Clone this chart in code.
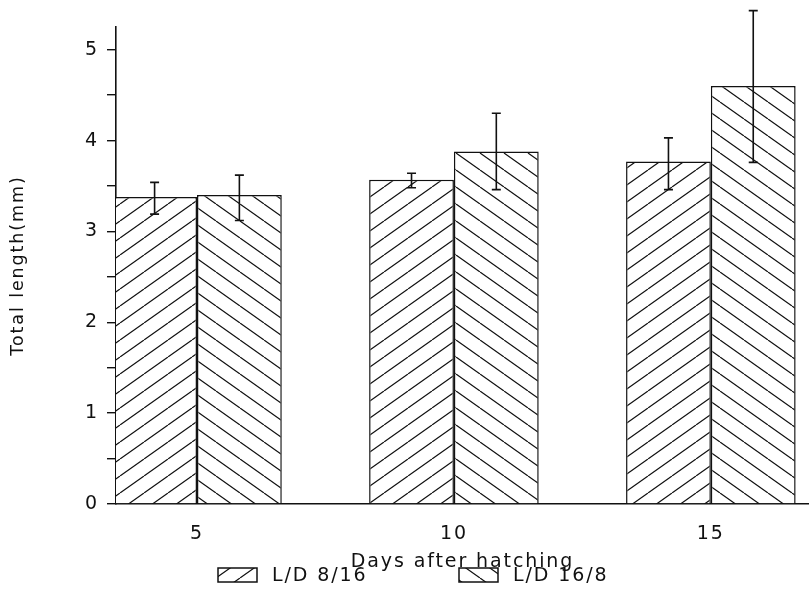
<!DOCTYPE html>
<html>
<head>
<meta charset="utf-8">
<script src="https://cdn.jsdelivr.net/npm/chart.js@4.4.0/dist/chart.umd.min.js"></script>
<style>
html, body { margin: 0; padding: 0; background: #fff; }
#wrap { width: 809px; height: 590px; }
</style>
</head>
<body>
<div id="wrap"><canvas id="myChart" width="809" height="590"></canvas></div>
<script>
// data
const days = [5, 10, 15];
const seriesNames = ["L/D 8/16", "L/D 16/8"];
const shortDay = [3.38, 3.57, 3.77];
const longDay = [3.40, 3.88, 4.60];
const shortErrLow = [3.19, 3.48, 3.46];
const shortErrHigh = [3.54, 3.64, 4.03];
const longErrLow = [3.12, 3.46, 3.76];
const longErrHigh = [3.62, 4.30, 5.43];
const yTickLabels = [0, 1, 2, 3, 4, 5];

const ink = "#111";
const fontFamily = "'DejaVu Sans', sans-serif";

// diagonal hatch, dir 1 = "/" and -1 = "\"
function hatch(dir) {
    const w = 24, h = 17;
    const c = document.createElement("canvas");
    c.width = w;
    c.height = h;
    const g = c.getContext("2d");
    g.fillStyle = "#fff";
    g.fillRect(0, 0, w, h);
    g.strokeStyle = ink;
    g.lineWidth = 1.2;
    g.beginPath();
    [-w, 0, w].forEach((dx) => {
        if (dir > 0) {
            g.moveTo(dx, h);
            g.lineTo(dx + w, 0);
        } else {
            g.moveTo(dx, 0);
            g.lineTo(dx + w, h);
        }
    });
    g.stroke();
    return g.createPattern(c, "repeat");
}

const patterns = [hatch(1), hatch(-1)];
const errLow = [shortErrLow, longErrLow];
const errHigh = [shortErrHigh, longErrHigh];

// the scanned lettering is widely spaced
const spacing = {
    id: "spacing",
    beforeDraw(chart) {
        chart.ctx.letterSpacing = "1.9px";
    },
};

// error bars drawn from the bar elements and the y scale
const errorBars = {
    id: "errorBars",
    afterDatasetsDraw(chart) {
        const ctx = chart.ctx;
        const y = chart.scales.y;
        ctx.save();
        ctx.strokeStyle = ink;
        ctx.lineWidth = 1.6;
        chart.data.datasets.forEach((ds, di) => {
            chart.getDatasetMeta(di).data.forEach((bar, i) => {
                const x = bar.x;
                const yl = y.getPixelForValue(errLow[di][i]);
                const yh = y.getPixelForValue(errHigh[di][i]);
                ctx.beginPath();
                ctx.moveTo(x, yl);
                ctx.lineTo(x, yh);
                ctx.moveTo(x - 4.5, yl);
                ctx.lineTo(x + 4.5, yl);
                ctx.moveTo(x - 4.5, yh);
                ctx.lineTo(x + 4.5, yh);
                ctx.stroke();
            });
        });
        ctx.restore();
    },
};

// legend under the axis title
const hatchLegend = {
    id: "hatchLegend",
    afterDraw(chart) {
        const ctx = chart.ctx;
        const starts = [218, 459];
        const yMid = 575;
        ctx.save();
        ctx.font = "19px " + fontFamily;
        ctx.textBaseline = "middle";
        chart.data.datasets.forEach((ds, di) => {
            const x0 = starts[di];
            ctx.fillStyle = patterns[di];
            ctx.fillRect(x0, yMid - 7, 39, 14);
            ctx.strokeStyle = ink;
            ctx.lineWidth = 1.5;
            ctx.strokeRect(x0, yMid - 7, 39, 14);
            ctx.fillStyle = ink;
            ctx.fillText(ds.label, x0 + 54, yMid + 1);
        });
        ctx.restore();
    },
};

const ctx = document.getElementById("myChart").getContext("2d");
const chart = new window.Chart(ctx, {
    type: "bar",
    data: {
        datasets: seriesNames.map((name, di) => ({
            label: name,
            data: days.map((d, i) => ({ x: d, y: [shortDay, longDay][di][i] })),
            backgroundColor: patterns[di],
            borderColor: ink,
            borderWidth: 1.5,
            borderSkipped: "bottom",
            categoryPercentage: 0.66,
            barPercentage: 1,
        })),
    },
    options: {
        responsive: false,
        animation: false,
        layout: { padding: { top: 27, left: 0, right: 0, bottom: 0 } },
        plugins: {
            legend: { display: false },
            tooltip: { enabled: false },
        },
        scales: {
            x: {
                type: "linear",
                offset: false,
                min: 3.424,
                max: 16.91,
                afterBuildTicks: (scale) => {
                    scale.ticks = days.map((d) => ({ value: d }));
                },
                afterFit: (scale) => {
                    scale.height = 86;
                },
                grid: { display: false, drawTicks: false },
                border: { display: true, color: ink, width: 1.6 },
                ticks: {
                    color: ink,
                    font: { family: fontFamily, size: 19 },
                    padding: 19,
                    callback: (v) => String(v),
                },
                title: {
                    display: true,
                    text: "Days after hatching",
                    color: ink,
                    font: { family: fontFamily, size: 19 },
                    padding: { top: 0, bottom: 17 },
                },
            },
            y: {
                min: 0,
                max: 5.25,
                afterBuildTicks: (scale) => {
                    const t = [];
                    yTickLabels.forEach((v) => {
                        t.push({ value: v });
                        if (v + 0.5 <= 5.25) t.push({ value: v + 0.5 });
                    });
                    scale.ticks = t;
                },
                afterFit: (scale) => {
                    scale.width = 116;
                },
                grid: {
                    drawOnChartArea: false,
                    drawTicks: true,
                    tickLength: 9,
                    color: ink,
                    lineWidth: 1.4,
                },
                border: { display: true, color: ink, width: 1.6 },
                ticks: {
                    color: ink,
                    font: { family: fontFamily, size: 19 },
                    padding: 8,
                    callback: (v) => (Number.isInteger(v) ? String(v) : ""),
                },
                title: {
                    display: true,
                    text: "Total length(mm)",
                    color: ink,
                    font: { family: fontFamily, size: 17.5 },
                    padding: { top: 8, bottom: 0 },
                },
            },
        },
    },
    plugins: [spacing, errorBars, hatchLegend],
});
</script>
</body>
</html>
